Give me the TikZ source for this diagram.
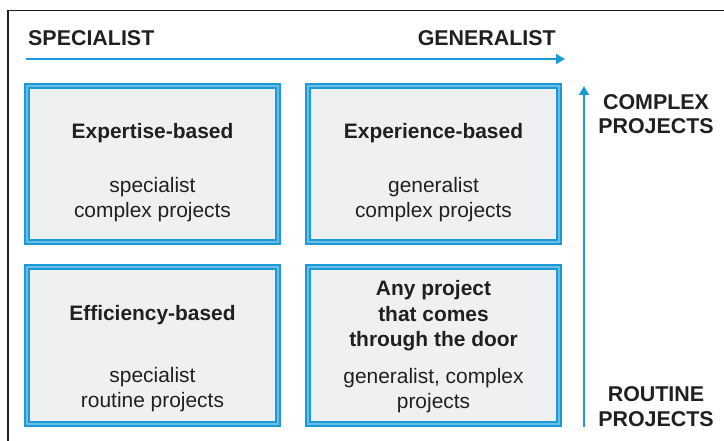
\documentclass[tikz,border=0pt]{standalone}
\usepackage{fontspec}
\setmainfont{Liberation Sans}
\usetikzlibrary{arrows.meta}
\definecolor{cblue}{HTML}{1A9AD6}
\definecolor{cband}{HTML}{6CBDE6}
\definecolor{cfill}{HTML}{EFF0F2}
\definecolor{ctext}{HTML}{231F20}
\begin{document}
\begin{tikzpicture}[x=1bp,y=-1bp,
  quad/.style={draw=cblue,line width=1.6bp,double=cband,double distance=2.4bp,fill=cfill,
    minimum width=251.4bp,minimum height=156.4bp,inner sep=0pt,outer sep=0pt},
  ttl/.style={font=\fontsize{21}{25.5}\selectfont\bfseries,text=ctext,align=center,inner sep=0pt},
  sub/.style={font=\fontsize{21}{25}\selectfont,text=ctext,align=center,inner sep=0pt},
  axis/.style={font=\fontsize{21.5}{24.5}\selectfont\bfseries,text=ctext,align=center,inner sep=0pt},
  arr/.style={draw=cblue,line width=1.6bp,-{Triangle[length=9bp,width=10bp]}}]
\useasboundingbox (0,0) rectangle (724,441);
\draw[line width=1.3bp,color=ctext] (8,441) -- (8,10.5) -- (724,10.5);
% boxes
\node[quad] (tl) at (152.5,164) {};
\node[quad] (tr) at (433.5,164) {};
\node[quad] (bl) at (152.5,345.5) {};
\node[quad] (br) at (433.5,345.5) {};
% texts
\node[ttl] (tlt) at (152.5,133) {Expertise-based};
\node[sub] (tls) at (152.5,200) {specialist\\complex projects};
\node[ttl] (trt) at (433.5,133) {Experience-based};
\node[sub] (trs) at (433.5,200) {generalist\\complex projects};
\node[ttl] (blt) at (152.5,315) {Efficiency-based};
\node[sub] (bls) at (152.5,390) {specialist\\routine projects};
\node[ttl] (brt) at (433.5,316) {Any project\\that comes\\through the door};
\node[sub] (brs) at (433.5,390.5) {generalist, complex\\projects};
% axis labels
\node[axis,anchor=west] (spec) at (28,38) {SPECIALIST};
\node[axis,anchor=east] (gen) at (556,38) {GENERALIST};
\node[axis] (cplx) at (656,114) {COMPLEX\\PROJECTS};
\node[axis] (rout) at (656,406.5) {ROUTINE\\PROJECTS};
% arrows
\coordinate (h0) at (26,59);
\coordinate (h1) at (565,59);
\coordinate (v0) at (584,427);
\coordinate (v1) at (584,86);
\draw[arr] (h0) -- (h1);
\draw[arr] (v0) -- (v1);
\end{tikzpicture}
\end{document}
